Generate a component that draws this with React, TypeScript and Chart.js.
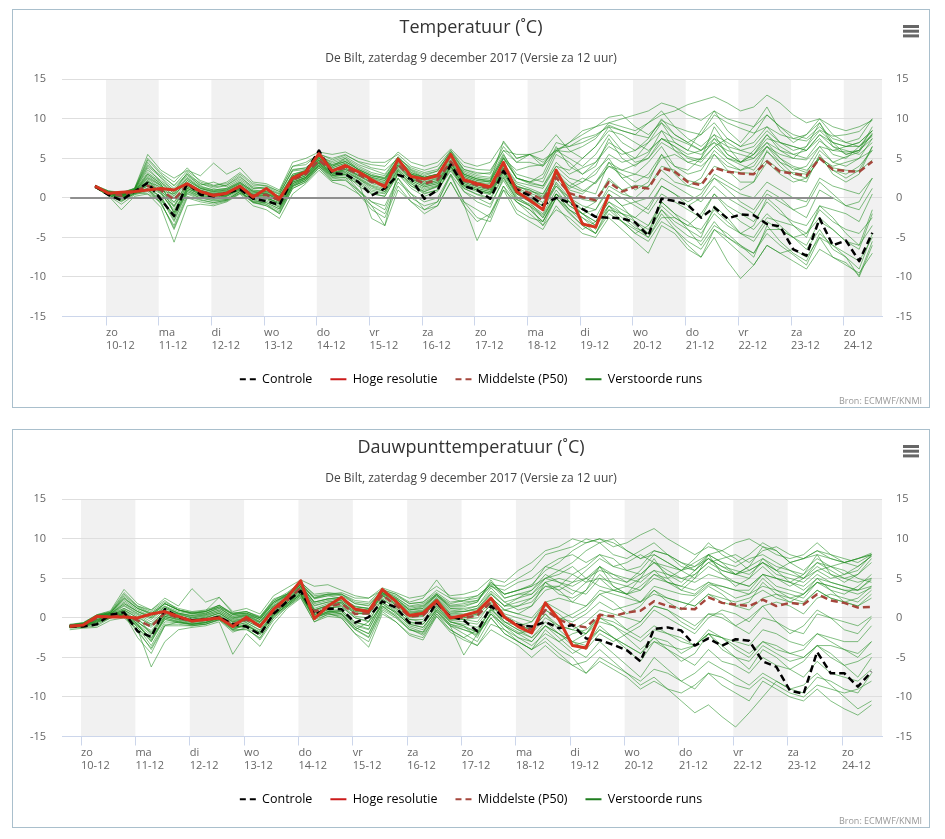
import React, { useEffect, useRef } from "react";
import { Chart, registerables } from "chart.js";

Chart.register(...registerables);

const FONT = '"Open Sans", "DejaVu Sans", sans-serif';

// x axis: days since zo 10-12 00:00
const DAY_NAMES = ["zo", "ma", "di", "wo", "do", "vr", "za", "zo", "ma", "di", "wo", "do", "vr", "za", "zo"];
const DAY_DATES = ["10-12", "11-12", "12-12", "13-12", "14-12", "15-12", "16-12", "17-12", "18-12", "19-12", "20-12", "21-12", "22-12", "23-12", "24-12"];
const BAND_DAYS = [0, 2, 4, 6, 8, 10, 12, 14];
// model time steps: first step 9-12 19h local, every 6 hours
const FIRST_HOUR = -5;
const STEP_HOURS = 6;

const SUBTITLE = "De Bilt, zaterdag 9 december 2017 (Versie za 12 uur)";
const TEMP_TITLE = "Temperatuur (˚C)";
const DEW_TITLE = "Dauwpunttemperatuur (˚C)";
const ZERO_LINE_X = [-0.68, 13.8];

// ---------------- Temperature ----------------
const TEMP_CONTROL = [1.5,0.4,-0.3,0.8, 1.9,-0.2,-2.3,1.9, 0.4,0.2,0.6,1.1, -0.1,-0.4,-0.9,2.5, 3.3,6.0,3.1,3.0, 2.0,0.3,1.2,2.9, 2.4,-0.1,1.0,4.2, 1.5,1.0,-0.1,3.4, 1.0,0.3,-0.9,0.0, -0.6,-1.4,-2.4,-2.5, -2.6,-3.1,-4.8,-0.1, -0.4,-0.9,-2.5,-1.2, -2.6,-2.1,-2.2,-3.3, -3.6,-6.5,-7.3,-2.6, -6.0,-5.4,-8.0,-4.4];
const TEMP_HIRES = [1.5,0.6,0.7,0.8, 1.0,1.2,1.0,1.8, 0.8,0.3,0.6,1.5, 0.1,1.2,-0.1,2.5, 3.3,5.6,3.4,4.1, 3.3,2.3,1.4,4.9, 2.7,2.4,2.8,5.5, 2.3,1.8,1.4,4.5, 0.8,-0.3,-1.5,3.5, 0.4,-3.3,-3.7,0.4];
const TEMP_P50 = [1.4,0.6,0.3,0.8, 1.5,1.0,-0.2,1.6, 0.8,0.4,0.6,1.4, 0.3,0.4,-0.3,2.3, 3.0,4.8,3.4,3.8, 3.0,2.0,1.6,4.2, 2.6,1.8,2.3,4.6, 2.2,1.6,1.2,3.8, 1.2,0.6,-0.3,2.6, 0.6,0.1,-0.3,2.0, 0.8,1.4,1.2,3.8, 3.3,2.0,1.6,3.8, 3.3,3.1,3.0,4.6, 3.3,3.1,2.8,5.0, 3.6,3.4,3.3,4.6];

const T01 = [1.5,0.8,0.5,1.0, 4.8,3.0,1.5,3.0, 1.5,1.0,1.2,2.2, 1.0,0.8,0.2,3.0, 3.5,5.0,4.2,4.8, 3.8,3.0,2.5,5.0, 3.2,2.6,3.0,5.4, 3.0,2.4,2.2,5.0, 3.5,4.0,4.2,6.2, 6.5,7.0,7.8,9.2, 8.5,8.0,7.6,9.8, 9.0,8.4,8.0,10.5, 9.5,8.8,8.2,9.0, 8.0,7.5,7.2,8.6, 7.8,8.0,8.4,10.0];
const T02 = [1.3,0.4,-0.5,0.6, 1.2,-0.8,-3.5,0.5, -0.2,-0.6,-0.3,0.8, -0.5,-1.0,-1.8,1.5, 2.2,4.2,2.6,3.0, 1.5,0.5,0.2,3.0, 1.2,0.2,0.8,4.0, 0.8,-0.5,-1.2,2.5, -0.2,-1.0,-2.2,0.5, -1.5,-2.5,-3.5,-1.0, -2.5,-3.8,-4.5,-1.5, -3.5,-4.8,-5.5,-3.0, -5.0,-6.2,-7.0,-4.5, -6.0,-7.2,-8.5,-5.0, -7.5,-8.2,-9.8,-5.5];
const T03 = [1.4,0.7,0.2,0.9, 2.5,1.5,-1.0,2.0, 1.0,0.5,0.8,1.6, 0.5,0.6,-0.5,2.6, 3.2,5.2,3.8,4.4, 3.2,2.2,1.8,4.5, 2.8,2.0,2.5,5.2, 2.6,2.0,1.6,4.2, 1.8,1.2,0.5,3.2, 1.5,0.8,2.0,4.5, 3.5,4.2,5.0,7.0, 6.0,5.2,4.8,6.5, 5.0,4.2,3.5,5.8, 4.5,3.8,3.2,6.0, 4.5,5.2,5.8,8.2];
const T04 = [1.6,0.9,0.7,1.2, 5.5,3.5,2.5,3.5, 2.8,4.4,3.0,3.8, 2.0,1.8,1.0,4.5, 5.0,5.8,5.5,5.8, 5.0,4.5,4.5,5.5, 4.0,3.5,4.0,6.0, 4.0,3.6,3.5,6.0, 5.5,5.5,4.5,6.0, 5.8,6.5,7.5,9.5, 10.0,10.5,11.0,12.0, 11.5,10.5,9.8,11.0, 10.0,9.5,9.0,10.5, 9.0,8.0,7.5,9.0, 7.5,7.0,6.5,8.0];
const T05 = [1.4,0.6,0.4,0.8, 1.8,0.8,-0.5,1.5, 0.8,0.3,0.5,1.3, 0.2,0.3,-0.4,2.2, 2.8,4.6,3.2,3.6, 2.8,1.8,1.4,4.0, 2.4,1.6,2.0,4.4, 2.0,1.4,1.0,3.6, 1.0,0.4,-0.6,2.4, 0.6,-0.2,-0.5,2.2, 1.0,1.6,1.4,4.0, 3.5,2.2,1.8,4.0, 3.4,3.2,3.1,4.8, 3.5,3.2,3.0,5.2, 3.8,3.5,3.4,4.8];
const T06 = [1.3,0.3,-1.5,0.2, 0.5,-1.2,-5.6,-1.0, -0.8,-1.0,-0.5,0.5, -1.0,-1.5,-2.6,0.5, 1.8,3.5,2.0,1.5, 0.5,-1.0,-3.5,1.0, -0.5,-1.5,-1.0,2.0, -0.8,-5.4,-2.0,1.5, -0.5,-1.5,-3.0,0.0, -2.0,-3.5,-4.5,-2.0, -3.0,-4.0,-5.0,-2.5, -2.5,-3.5,-4.0,-1.5, -3.0,-4.5,-5.5,-3.0, -4.0,-5.0,-6.5,-4.0, -6.5,-7.5,-10.0,-6.0];
const T07 = [1.5,0.7,0.3,1.0, 3.8,2.0,0.5,2.5, 1.2,0.8,1.0,2.0, 0.8,0.5,0.0,2.8, 3.5,5.5,4.0,5.0, 3.5,2.5,2.0,4.8, 3.0,2.5,2.8,5.5, 2.8,2.2,2.0,7.2, 5.0,5.5,4.0,5.8, 7.0,8.0,9.0,9.5, 9.0,8.5,9.5,10.5, 11.0,11.8,12.3,12.8, 12.0,11.0,11.5,13.0, 12.0,10.5,9.5,10.0, 9.0,8.5,9.0,9.8];
const T08 = [1.4,0.5,0.0,0.7, 3.0,1.8,-2.0,1.0, 0.3,0.0,0.2,1.2, 0.0,-0.2,-1.0,1.8, 2.5,4.0,2.8,3.2, 2.0,-2.6,-3.5,3.5, 1.5,0.8,1.5,4.0, 1.5,1.0,0.5,3.0, 0.5,0.0,-1.5,1.5, -0.5,-2.0,-3.0,-1.0, -2.0,-3.0,-4.0,-1.5, -3.0,-4.0,-6.0,-3.5, -4.5,-6.0,-7.0,-4.0, -4.0,-5.0,-6.0,-3.0, -4.0,-5.5,-6.5,-2.0];
const T09 = [1.5,0.8,0.6,1.1, 4.5,2.5,0.8,3.2, 1.8,1.2,1.6,2.6, 1.4,1.2,0.4,3.5, 3.8,5.2,4.6,5.2, 4.2,3.6,3.0,5.2, 3.5,2.8,3.4,5.8, 3.4,2.8,2.6,5.6, 2.5,1.8,1.5,4.5, 3.0,3.8,4.5,6.5, 5.5,6.0,7.0,8.5, 7.5,6.8,6.0,7.5, 6.5,6.0,5.5,7.0, 6.0,5.5,5.0,7.2, 6.0,5.8,6.0,7.5];
const T10 = [1.3,0.5,0.1,0.6, 1.0,0.2,-2.5,1.2, 0.5,0.2,0.3,1.0, 0.0,0.0,-0.8,1.8, 2.6,4.4,3.0,3.2, 2.4,1.2,0.8,3.6, 2.0,1.0,1.5,4.0, 1.6,1.0,0.6,3.4, 0.6,-0.2,-1.0,1.8, -0.5,-1.5,-2.5,0.5, -1.0,-0.5,0.0,2.5, 1.5,0.5,-0.5,1.5, 0.0,-1.0,-2.0,0.5, -0.5,-1.5,-2.5,1.0, 0.0,-1.0,-1.5,1.2];
const T11 = [1.5,0.6,0.5,0.9, 2.0,1.4,0.0,1.8, 1.0,0.6,0.8,1.6, 0.4,0.5,-0.2,2.4, 3.0,4.8,3.6,4.0, 3.2,2.4,1.9,4.4, 2.7,2.0,2.4,4.8, 2.4,1.8,1.4,4.0, 1.4,1.0,0.2,3.0, 1.2,2.0,3.0,5.5, 4.5,5.0,5.8,7.5, 7.0,6.0,5.5,7.0, 6.0,5.5,5.0,6.5, 5.5,5.0,4.8,6.5, 6.0,6.5,7.0,8.5];
const T12 = [1.4,0.4,-0.2,0.6, 1.5,0.0,-3.0,0.8, 0.2,-0.2,0.0,0.9, -0.4,-0.6,-1.4,1.6, 2.4,4.2,2.8,2.8, 2.0,0.8,0.5,3.2, 1.8,0.6,1.0,3.6, 1.2,0.4,-0.2,2.6, -0.2,-1.0,-2.5,0.5, -1.5,-3.0,-4.5,-1.0, -3.0,-4.5,-5.5,-3.0, -4.0,-5.5,-6.5,-4.0, -5.5,-7.0,-8.5,-6.0, -7.0,-8.0,-9.0,-6.5, -7.5,-8.5,-9.5,-7.0];
const T13 = [1.5,0.7,0.4,0.9, 2.8,1.6,0.3,2.2, 1.2,0.7,0.9,1.8, 0.6,0.7,0.0,2.6, 3.0,5.0,3.6,4.2, 3.4,2.6,2.2,4.6, 3.0,2.2,2.6,5.0, 2.6,2.0,1.8,4.4, 2.0,1.6,1.2,4.0, 2.5,2.0,3.5,5.0, 2.5,3.0,4.5,6.5, 4.0,3.5,5.0,7.5, 5.5,4.5,6.0,8.0, 6.5,5.5,6.0,7.5, 5.5,5.0,6.5,7.8];
const T14 = [1.4,0.5,0.2,0.7, 0.5,-0.5,-4.0,0.0, -0.5,-0.8,-0.4,0.6, -0.2,-0.8,-2.0,1.2, 2.0,3.8,2.2,2.2, 1.0,-0.5,-1.0,2.5, 0.5,-0.5,0.0,3.0, 0.8,0.0,-0.8,2.2, -0.5,-1.5,-3.0,0.0, -1.8,-3.5,-4.5,-1.5, -2.0,-2.5,-3.5,-0.5, -2.0,-3.0,-4.5,-2.0, -3.5,-4.5,-5.0,-2.5, -3.0,-3.5,-4.5,-1.5, -3.0,-4.0,-4.5,-2.5];
const T15 = [1.5,0.8,0.6,1.2, 5.0,3.2,2.0,3.8, 2.0,1.5,2.0,3.2, 1.8,1.5,0.8,4.0, 4.5,5.5,5.0,5.5, 4.5,3.8,3.5,5.0, 3.8,3.2,3.6,5.8, 3.6,3.2,3.0,6.0, 4.5,5.5,4.8,6.0, 7.0,8.5,9.0,10.2, 10.5,9.0,8.0,9.5, 8.0,7.0,6.0,8.0, 7.0,6.0,6.5,8.5, 7.0,6.5,6.0,8.0, 6.5,6.0,5.5,7.0];
const T16 = [1.4,0.6,0.2,0.8, 1.5,0.5,-1.5,1.2, 0.5,0.2,0.4,1.2, 0.0,0.0,-0.6,2.0, 2.6,4.5,3.2,3.4, 2.5,1.5,1.0,3.8, 2.2,1.4,1.8,4.2, 1.8,1.2,0.8,3.4, 0.8,0.0,-1.0,1.5, 0.0,-1.0,-1.5,1.5, 0.5,0.0,1.5,3.5, 2.0,1.5,1.0,2.5, 1.5,0.5,0.0,2.0, 1.0,0.0,-0.5,2.5, 1.5,1.0,0.5,2.5];
const T17 = [1.5,0.6,0.3,0.9, 2.2,1.0,-1.2,1.6, 0.8,0.4,0.6,1.4, 0.3,0.2,-0.4,2.2, 2.8,4.8,3.4,3.8, 2.8,2.0,1.5,4.2, 2.5,1.8,2.2,4.6, 2.2,1.6,1.2,3.8, 1.2,0.6,0.0,2.8, 1.5,2.5,1.8,4.0, 3.5,3.0,2.5,5.0, 5.5,4.5,4.0,5.5, 4.0,3.5,4.5,6.5, 5.0,4.0,3.5,5.0, 4.0,4.5,5.0,6.0];
const T18 = [1.3,0.4,-0.4,0.5, 1.0,-0.4,-2.0,0.8, 0.0,-0.4,-0.2,0.8, -0.6,-0.8,-1.6,1.4, 2.2,4.0,2.4,2.6, 1.8,0.6,0.2,3.0, 1.5,0.5,1.0,3.4, 1.2,0.5,0.0,2.8, 0.0,-0.8,-2.0,1.0, -1.0,-2.0,-3.0,-0.5, -2.0,-3.5,-5.0,-2.0, -4.0,-6.0,-7.5,-5.0, -8.0,-10.2,-8.5,-6.0, -7.0,-6.5,-7.5,-5.0, -6.0,-7.0,-8.0,-5.0];
const T19 = [1.6,0.9,0.5,1.1, 3.5,2.2,1.0,2.8, 1.6,2.0,1.4,2.4, 1.2,1.4,0.6,3.4, 3.6,5.4,4.2,4.6, 3.6,2.8,2.6,4.8, 3.4,2.6,3.0,5.6, 3.2,2.6,2.4,5.2, 2.5,2.0,1.5,4.0, 3.5,5.0,6.5,8.5, 8.0,7.0,6.0,7.5, 6.5,5.5,6.0,7.0, 5.0,4.5,5.5,7.5, 7.0,6.5,6.0,8.0, 7.0,6.5,6.5,8.5];
const T20 = [1.4,0.6,0.3,0.8, 2.0,0.8,-1.8,1.4, 0.6,0.3,0.4,1.2, 0.2,0.0,-0.6,2.0, 2.6,4.6,3.0,3.6, 2.6,1.6,1.2,4.0, 2.2,1.4,1.8,4.4, 1.8,1.2,0.8,3.6, 0.5,-0.5,-2.5,0.5, -1.0,-2.0,-1.5,1.0, 0.0,-1.0,-2.0,0.5, -0.5,-1.5,-2.5,0.5, -1.0,-2.0,-3.0,-0.5, -2.0,-3.0,-3.5,-1.0, -1.5,-2.0,-3.0,0.5];
const T21 = [1.5,0.7,0.4,1.0, 3.2,2.0,0.8,2.6, 1.4,1.0,1.2,2.0, 0.8,0.9,0.2,2.8, 3.4,5.0,4.0,4.6, 3.6,2.8,2.4,4.8, 3.0,2.6,3.0,5.6, 3.0,2.4,2.2,5.4, 3.0,2.5,2.0,5.5, 4.5,3.0,4.0,7.5, 5.0,4.0,5.5,8.5, 6.0,4.5,5.0,9.0, 6.5,4.5,5.5,8.0, 6.0,5.0,6.5,9.5, 7.0,5.5,6.0,9.0];
const T22 = [1.4,0.5,0.1,0.7, 2.2,0.6,-1.8,1.2, 0.4,0.0,0.3,1.1, -0.2,0.0,-1.2,1.6, 2.4,4.4,2.8,3.0, 1.0,-1.0,-2.0,2.0, 0.5,-1.5,-0.5,3.0, -0.5,-2.5,-3.0,1.0, -0.5,-2.0,-3.5,0.0, -1.5,-2.5,-4.0,0.5, -1.0,-3.0,-4.5,-0.5, -2.0,-4.0,-5.0,-1.0, -2.5,-4.5,-3.5,0.0, -1.5,-3.5,-5.0,-1.0, -2.5,-4.5,-6.0,-1.5];
const T23 = [1.4,0.6,0.3,0.8, 1.6,0.9,0.5,1.8, 0.9,0.5,0.7,1.5, 0.4,0.5,-0.2,2.4, 3.0,4.6,3.2,3.6, 3.0,2.2,1.6,4.2, 2.6,1.8,2.2,4.6, 2.2,1.6,1.2,4.0, 1.5,0.8,0.5,3.5, 2.0,1.0,0.5,4.5, 2.5,1.0,2.0,5.5, 3.0,1.5,2.5,5.5, 3.5,2.0,2.0,6.0, 4.0,2.5,2.0,5.5, 3.0,2.0,3.0,6.5];
const T24 = [1.5,0.8,0.5,1.1, 4.0,2.6,1.2,3.0, 1.8,1.4,1.6,2.8, 1.2,1.2,0.5,3.6, 3.8,5.4,4.4,5.0, 4.0,3.2,2.8,5.2, 3.6,3.0,3.4,6.0, 3.6,3.0,3.2,6.5, 4.5,4.5,4.0,7.0, 6.5,7.5,8.0,9.0, 8.5,8.0,9.5,11.0, 9.0,7.5,6.5,8.0, 5.5,4.5,5.0,7.0, 5.0,3.5,4.0,6.5, 4.5,4.0,5.0,7.5];
const T25 = [1.3,0.3,-0.8,0.4, 0.8,-0.6,-3.8,0.2, -0.3,-0.6,-0.3,0.6, -0.6,-1.0,-2.0,1.2, 2.0,3.8,2.2,2.4, 0.5,-1.5,-2.5,1.5, -0.5,-2.0,-1.0,2.0, -1.0,-3.0,-2.0,1.0, -2.0,-3.0,-4.0,-1.0, -3.0,-4.5,-5.0,-2.5, -4.0,-5.5,-7.0,-3.5, -4.5,-6.5,-7.5,-4.0, -5.0,-6.0,-7.5,-3.5, -5.5,-7.0,-8.0,-4.5, -6.0,-7.5,-9.0,-4.5];
const T26 = [1.5,0.7,0.4,1.0, 2.6,1.6,0.2,2.2, 1.2,0.8,1.0,1.8, 0.7,0.6,0.0,2.8, 3.2,5.0,3.8,4.4, 3.4,2.6,2.2,4.8, 3.0,2.4,2.8,5.4, 2.8,2.2,2.0,5.0, 2.5,2.0,2.5,6.0, 5.0,4.0,5.5,8.0, 6.0,5.0,7.0,9.5, 7.0,6.0,8.5,11.0, 8.5,7.0,9.0,11.5, 8.5,7.0,8.0,10.0, 8.0,7.0,7.5,10.0];
const T27 = [1.4,0.6,0.3,0.9, 2.4,1.2,-0.6,1.8, 0.8,0.4,0.6,1.4, 0.3,0.3,-0.4,2.2, 2.8,4.8,3.4,3.8, 2.8,2.0,1.6,4.2, 2.4,1.6,2.0,4.4, 2.0,1.4,1.0,3.8, 1.5,1.0,0.0,3.0, 1.0,0.5,2.0,4.0, 3.0,2.0,3.0,5.5, 4.0,3.0,3.5,6.0, 4.5,3.5,4.0,6.5, 4.5,3.0,2.5,5.0, 3.5,3.0,4.0,6.0];
const T28 = [1.4,0.5,0.0,0.7, 1.2,0.2,-2.8,1.0, 0.2,-0.1,0.2,1.0, -0.2,-0.4,-1.2,1.8, 2.4,4.2,3.0,3.0, 2.2,1.0,0.6,3.4, 1.8,0.8,1.4,3.8, 1.4,0.8,0.4,3.2, 0.2,-1.0,-3.5,-1.5, -2.5,-4.0,-3.0,-0.5, -1.5,-2.5,-1.0,1.5, 0.5,-0.5,0.5,3.0, 2.0,1.0,2.0,4.5, 3.0,2.0,2.5,5.0, 3.5,2.5,3.5,6.5];
const T29 = [1.5,0.8,0.6,1.2, 4.2,2.8,1.6,3.4, 2.2,1.6,1.8,3.0, 1.6,1.6,0.8,4.0, 4.2,5.6,4.8,5.4, 4.6,4.2,4.0,5.8, 4.5,4.0,4.5,6.2, 4.5,4.0,4.5,7.0, 5.0,5.5,6.0,8.0, 6.0,5.0,6.5,9.0, 7.0,6.0,7.5,10.0, 8.0,7.0,8.0,9.5, 7.5,6.5,7.0,9.0, 7.0,6.0,6.5,8.5, 7.0,6.5,7.0,8.5];
const T30 = [1.3,0.4,-0.3,0.5, 1.0,-0.2,-2.2,0.6, 0.0,-0.3,-0.2,0.8, -0.5,-0.6,-1.4,1.5, 2.2,4.0,2.6,2.6, 0.8,-0.5,-1.5,2.5, 0.0,-1.0,-0.5,2.8, -0.5,-1.5,-2.5,1.5, -1.5,-2.5,-3.0,0.5, -0.5,-2.0,-3.5,-1.5, -3.0,-4.5,-3.5,-1.0, -2.5,-3.5,-2.0,0.5, -1.5,-3.0,-4.0,-2.0, -3.5,-5.0,-4.5,-2.5, -4.0,-5.5,-6.0,-3.5];
const T31 = [1.5,0.7,0.5,1.0, 3.0,1.8,0.6,2.4, 1.3,0.9,1.1,1.9, 0.9,0.8,0.2,3.0, 3.4,5.2,4.0,4.6, 3.6,2.8,2.4,4.8, 3.2,2.6,3.0,5.4, 3.0,2.4,2.0,5.0, 2.5,2.0,3.0,6.5, 4.0,3.0,4.5,7.0, 6.0,4.5,5.0,7.5, 6.5,5.0,4.5,6.5, 7.5,6.5,8.0,10.5, 9.0,7.5,8.0,9.5, 6.5,5.5,6.0,8.0];
const T32 = [1.4,0.5,0.2,0.8, 1.8,0.6,-1.0,1.4, 0.6,0.2,0.4,1.2, 0.1,0.1,-0.8,2.0, 2.6,4.4,3.0,3.4, 2.4,1.4,0.8,3.6, 2.0,1.2,1.6,4.0, 1.6,1.0,0.6,3.4, 0.5,-0.5,-1.5,2.0, 0.0,-1.5,-0.5,2.5, 1.0,-0.5,-1.5,1.5, 0.5,-1.0,0.0,2.5, 1.0,-0.5,-1.5,1.0, 0.0,-1.5,-1.0,2.0, 0.5,-1.0,-0.5,2.5];
const TEMP_RUNS = [T01, T02, T03, T04, T05, T06, T07, T08, T09, T10, T11, T12, T13, T14, T15, T16, T17, T18, T19, T20, T21, T22, T23, T24, T25, T26, T27, T28, T29, T30, T31, T32];

// ---------------- Dew point ----------------
const DEW_CONTROL = [-1.1,-1.1,-0.8,0.4, 0.7,-1.7,-2.4,1.1, 0.1,-0.3,-0.2,0.1, -0.8,-1.1,-2.1,0.5, 2.1,3.4,0.4,1.2, 1.1,-0.6,0.1,2.1, 1.3,-0.6,-0.7,1.9, 0.2,-0.3,-1.7,1.5, 0.0,-0.9,-1.1,-0.5, -1.3,-0.9,-2.6,-2.8, -3.4,-4.1,-5.5,-1.4, -1.2,-1.6,-3.5,-2.6, -3.5,-2.7,-2.9,-5.5, -6.2,-9.2,-9.6,-4.3, -7.0,-7.0,-8.7,-6.8];
const DEW_HIRES = [-1.1,-0.9,0.2,0.1, 0.1,0.0,0.5,0.8, 0.2,-0.4,-0.2,0.0, -1.1,0.1,-1.1,1.1, 2.6,4.7,-0.1,1.5, 2.6,1.1,0.8,3.6, 2.1,0.3,0.6,2.2, 0.0,0.3,0.8,2.5, 0.1,-1.1,-1.9,1.9, -0.2,-3.5,-3.8,0.3];
const DEW_P50 = [-1.0,-0.9,0.0,0.2, 0.3,-0.3,-1.1,0.6, 0.0,-0.4,-0.2,0.1, -0.8,-0.2,-1.0,0.8, 2.2,3.8,0.8,1.4, 1.8,0.5,0.6,2.9, 1.6,0.2,0.3,1.9, 0.1,0.0,0.3,2.0, 0.0,-0.9,-1.5,1.0, -0.2,-0.9,-1.2,0.4, 0.2,0.7,0.9,2.1, 1.5,1.2,1.1,2.6, 1.9,1.7,1.5,2.3, 1.5,1.9,1.7,3.0, 2.2,1.9,1.3,1.4];

const D01 = [-1.0,-0.8,0.2,0.6, 2.5,1.2,0.5,1.5, 0.8,0.5,0.6,1.2, 0.2,0.5,-0.2,1.8, 3.0,4.2,2.5,2.8, 2.5,1.5,1.2,3.2, 2.4,1.2,1.5,2.8, 1.5,1.6,2.0,4.8, 2.5,3.0,3.5,5.0, 6.0,7.0,8.5,9.5, 10.0,8.5,7.5,8.5, 8.0,7.0,6.5,7.5, 6.5,6.0,5.5,7.0, 6.0,5.5,5.0,6.5, 5.5,5.0,4.5,5.0];
const D02 = [-1.3,-1.2,-1.0,0.0, 0.5,-2.5,-4.5,-1.0, -0.5,-0.8,-0.6,-0.2, -1.5,-1.5,-2.5,0.0, 1.8,3.0,0.0,0.8, 0.5,-1.5,-0.5,1.5, 0.8,-1.0,-1.5,1.2, -0.5,-1.0,-2.5,0.8, -1.0,-2.0,-3.0,-1.0, -2.5,-4.0,-5.0,-3.0, -4.5,-6.0,-7.5,-5.0, -6.5,-8.0,-9.0,-7.0, -8.5,-9.5,-10.5,-8.0, -9.0,-10.0,-10.5,-9.0, -10.5,-11.5,-12.3,-11.0];
const D03 = [-1.1,-0.9,0.0,0.3, 1.0,0.0,-2.0,0.5, 0.2,-0.2,0.0,0.6, -0.5,-0.2,-1.0,1.0, 2.2,3.6,1.0,1.6, 2.0,0.6,0.5,2.8, 1.8,0.4,0.5,2.0, 0.3,0.0,0.5,2.2, 0.3,-0.6,-1.2,1.0, -0.2,0.5,1.5,3.5, 3.0,2.5,2.0,4.0, 3.5,3.0,2.8,4.2, 4.0,3.5,3.0,4.0, 3.5,3.0,2.5,4.5, 4.0,3.5,3.0,3.8];
const D04 = [-0.8,-0.6,0.4,0.9, 3.6,1.8,1.0,2.5, 1.5,3.7,2.0,2.6, 0.8,1.2,0.5,2.8, 3.8,4.8,4.0,4.2, 3.5,2.8,2.5,3.5, 3.0,2.0,2.5,4.8, 2.5,2.0,2.2,4.5, 3.0,3.5,4.2,6.0, 7.0,8.5,9.5,10.0, 9.0,9.5,10.5,11.3, 10.0,9.0,8.0,9.0, 8.5,9.5,10.0,9.0, 8.0,7.5,8.0,9.5, 8.0,7.5,7.0,8.0];
const D05 = [-1.0,-0.9,0.1,0.2, 0.5,-0.3,-1.2,0.6, 0.0,-0.4,-0.2,0.2, -0.8,-0.2,-1.0,0.9, 2.2,3.8,0.8,1.4, 1.8,0.5,0.6,2.9, 1.6,0.2,0.3,1.9, 0.1,0.0,0.3,2.0, 0.0,-0.9,-1.5,1.0, 0.0,-0.5,0.5,2.0, 1.0,1.5,2.0,3.0, 2.5,2.0,1.5,3.0, 2.5,2.0,2.5,3.5, 2.5,2.0,1.8,3.5, 2.5,2.0,1.5,2.5];
const D06 = [-1.5,-1.3,-1.2,-0.3, 0.0,-1.5,-6.2,-3.0, -1.5,-1.2,-1.0,-0.5, -4.6,-2.0,-3.6,-0.8, 1.2,2.5,-0.5,0.2, 0.0,-2.0,-3.7,0.5, -0.5,-2.0,-2.5,0.5, -1.0,-4.7,-2.0,0.0, -2.0,-3.0,-4.0,-2.5, -4.0,-5.0,-7.0,-5.0, -6.0,-7.0,-8.5,-7.5, -9.0,-10.5,-12.0,-11.0, -12.5,-13.8,-12.0,-10.0, -8.0,-9.0,-9.5,-7.5, -8.0,-9.0,-9.5,-7.0];
const D07 = [-0.9,-0.7,0.3,0.7, 3.0,1.5,0.8,2.0, 1.2,0.8,1.0,1.6, 0.6,0.8,0.2,2.2, 3.2,4.5,3.0,3.2, 3.0,2.0,1.8,3.4, 2.8,1.8,2.0,3.2, 2.0,2.2,2.5,4.0, 3.5,4.5,5.0,6.5, 7.5,8.0,7.0,8.0, 6.5,6.0,5.5,7.0, 6.0,5.0,5.5,7.0, 7.5,8.0,7.0,8.5, 9.0,8.0,7.5,8.5, 7.5,7.0,6.5,7.8];
const D08 = [-1.2,-1.0,-0.5,0.2, 0.8,-0.8,-3.0,0.2, -0.3,-0.6,-0.4,0.2, -1.2,-1.0,-1.8,0.5, 1.8,3.2,0.4,1.0, 1.0,-0.5,-1.0,2.0, 1.0,-0.5,-0.8,1.5, -0.5,-1.0,-1.8,1.2, -0.8,-1.8,-2.5,-0.5, -2.0,-3.0,-3.5,-1.5, -2.5,-3.5,-4.5,-2.5, -4.0,-5.0,-6.0,-4.0, -5.5,-6.0,-7.0,-5.0, -6.0,-6.5,-7.5,-5.5, -7.0,-7.5,-8.0,-6.5];
const D09 = [-1.0,-0.8,0.2,0.5, 1.8,0.8,0.0,1.2, 0.6,0.2,0.4,1.0, 0.0,0.3,-0.5,1.5, 2.6,4.2,1.8,2.2, 2.4,1.2,1.0,3.2, 2.2,0.8,1.0,2.6, 1.0,0.8,1.2,3.0, 1.5,1.5,2.0,4.0, 3.5,4.5,5.0,6.0, 5.5,5.0,4.5,6.0, 5.5,5.0,4.5,5.5, 5.0,4.5,4.0,5.5, 5.0,4.5,4.0,5.5, 4.5,4.0,3.5,4.8];
const D10 = [-1.1,-1.0,-0.3,0.2, 0.3,-1.0,-2.5,0.0, -0.4,-0.7,-0.5,0.0, -1.5,-0.8,-2.0,0.4, 1.6,3.0,0.2,0.8, 0.8,-1.0,-1.5,1.8, 0.6,-0.8,-1.2,1.0, -0.8,-1.5,-2.0,0.5, -1.5,-2.5,-3.5,-2.0, -3.0,-2.0,-1.5,0.0, -0.5,-1.5,-2.5,-1.0, -2.0,-3.0,-3.5,-2.0, -2.5,-3.5,-4.5,-3.0, -4.0,-4.5,-5.0,-3.5, -3.5,-4.0,-4.5,-3.0];
const D11 = [-1.0,-0.9,0.0,0.4, 1.5,0.5,-0.5,1.0, 0.4,0.0,0.2,0.8, -0.3,0.0,-0.6,1.2, 2.4,4.0,1.2,1.8, 2.0,0.8,0.8,3.0, 2.0,0.5,0.8,2.4, 0.6,0.5,0.8,2.6, 1.0,0.5,1.5,3.5, 4.0,5.5,4.5,5.0, 3.5,4.0,5.0,6.0, 4.5,4.0,5.5,7.0, 6.0,5.5,6.5,7.5, 6.5,6.0,5.0,6.0, 5.0,5.5,6.5,7.8];
const D12 = [-1.2,-1.1,-0.6,0.1, 0.6,-1.2,-3.5,-0.5, -0.6,-0.9,-0.8,-0.2, -1.0,-1.2,-2.2,0.2, 1.5,2.8,0.0,0.6, 0.6,-1.2,-2.0,1.4, 0.4,-1.2,-1.8,0.8, -1.0,-2.0,-3.0,0.0, -2.0,-3.0,-4.0,-3.0, -4.5,-6.0,-7.0,-5.5, -6.5,-7.5,-9.0,-8.0, -9.0,-9.5,-8.5,-7.0, -7.5,-8.5,-9.0,-7.5, -8.5,-9.5,-10.0,-8.5, -9.0,-9.5,-9.0,-8.0];
const D13 = [-0.9,-0.6,0.4,0.8, 3.2,1.5,1.0,2.2, 1.0,0.6,0.8,1.4, 0.4,0.6,0.0,2.0, 3.0,4.4,2.5,3.0, 2.8,1.8,1.5,3.4, 2.6,1.5,1.8,3.0, 1.8,2.2,2.8,4.2, 4.0,5.0,6.0,8.0, 8.5,9.0,10.0,9.5, 8.0,7.5,8.5,9.5, 8.0,7.0,6.0,7.5, 6.0,5.5,6.0,7.0, 5.5,5.0,4.5,6.0, 6.5,7.0,7.5,8.0];
const D14 = [-1.1,-0.9,-0.2,0.3, 0.8,-0.5,-2.0,0.2, -0.2,-0.5,-0.3,0.2, -1.0,-0.6,-1.5,0.6, 2.0,3.4,0.4,1.2, 1.5,0.0,-0.5,2.4, 1.2,-0.2,-0.5,1.4, -0.3,-0.5,-0.8,1.2, -0.5,-1.5,-2.0,0.0, -1.0,-1.5,-0.5,1.0, 0.5,0.0,-0.5,1.5, 1.0,0.0,-1.0,0.5, 0.0,-1.0,-2.0,0.0, -0.5,-1.5,-2.0,0.5, 0.0,-0.5,-1.0,0.2];
const D15 = [-1.0,-0.7,0.3,0.6, 2.2,1.0,0.2,1.8, 1.0,0.5,0.8,1.4, 0.5,0.6,-0.2,2.0, 2.8,4.0,2.0,2.4, 2.6,1.4,1.2,3.0, 2.5,1.0,1.2,2.8, 1.2,1.2,1.5,3.4, 2.0,2.5,3.0,4.5, 5.0,4.5,6.0,7.5, 6.5,7.0,8.0,7.0, 6.5,6.0,7.0,8.0, 7.0,6.5,7.5,8.0, 7.0,6.0,5.5,7.0, 6.5,6.0,5.0,4.5];
const D16 = [-1.2,-1.0,-0.4,0.1, 0.2,-1.5,-4.0,-1.0, -1.0,-1.0,-0.8,-0.3, -1.8,-1.2,-2.8,-0.3, 1.4,2.6,-0.5,0.5, 0.2,-1.5,-2.5,1.0, 0.0,-1.5,-2.0,0.5, -1.5,-2.5,-1.5,1.0, 1.0,0.5,0.0,2.0, 2.5,2.0,1.5,3.0, 3.5,3.0,2.0,3.5, 2.5,2.0,1.5,3.0, 2.0,1.5,1.0,2.5, 3.0,2.5,2.0,3.5, 2.5,2.0,1.5,3.0];
const D17 = [-1.0,-0.8,0.1,0.5, 1.2,0.4,-0.8,0.8, 0.5,0.0,0.3,0.8, -0.2,0.2,-0.6,1.4, 2.4,4.0,1.5,2.0, 2.2,1.0,0.8,3.2, 2.0,0.6,0.8,2.4, 0.6,0.8,1.0,3.0, 1.5,2.5,3.5,5.5, 4.5,3.5,3.0,5.0, 4.5,4.0,3.5,5.0, 4.5,4.0,3.5,4.5, 4.0,3.5,3.5,5.5, 4.0,3.5,3.0,4.5, 4.0,3.5,3.5,4.0];
const D18 = [-1.1,-1.0,-0.2,0.3, 1.0,-0.5,-1.8,0.4, 0.0,-0.3,-0.2,0.4, -0.6,-0.4,-1.2,1.0, 2.0,3.6,0.6,1.2, 1.6,0.2,0.0,2.6, 1.4,0.0,0.2,2.0, 0.0,-0.2,-0.5,1.8, -0.5,-1.5,-2.5,-1.0, -2.0,-3.0,-4.0,-2.0, -3.0,-2.0,-1.0,1.0, 0.0,-1.0,-2.0,0.0, 1.0,0.5,-0.5,1.5, 2.0,1.5,0.5,2.5, 3.0,2.5,2.0,3.5];
const D19 = [-0.9,-0.7,0.2,0.6, 2.8,1.4,0.6,1.8, 1.0,0.7,0.9,2.6, 0.6,0.8,0.1,2.4, 3.0,4.6,2.8,3.0, 3.0,1.8,1.6,3.4, 2.6,1.4,1.6,3.0, 1.6,1.8,2.2,4.0, 3.0,3.5,4.0,5.0, 5.5,6.5,5.0,4.0, 3.5,3.0,4.0,5.5, 5.0,6.0,6.5,8.0, 8.5,7.5,6.0,7.0, 6.0,7.0,7.5,8.0, 7.5,7.0,7.5,8.2];
const D20 = [-1.1,-1.0,-0.4,0.2, 0.4,-0.8,-2.8,0.0, -0.5,-0.8,-0.6,0.0, -1.2,-0.8,-1.8,0.5, 1.8,3.2,0.2,0.8, 1.0,-0.6,-1.0,2.0, 0.8,-0.6,-0.8,1.2, -0.5,-0.8,-1.2,1.0, -0.5,-1.0,-1.5,0.5, -1.0,-1.5,-2.0,-0.5, -1.0,-2.0,-3.0,-1.5, -2.0,-2.5,-3.5,-2.0, -2.5,-3.0,-3.5,-1.5, -2.0,-3.0,-3.5,-2.0, -2.5,-3.0,-3.0,-1.0];
const D21 = [-1.0,-0.8,0.2,0.5, 2.0,0.8,0.0,1.4, 0.6,0.3,0.5,1.4, 0.0,0.4,-0.4,1.6, 2.8,4.2,2.0,2.4, 2.6,1.2,1.0,3.4, 2.2,1.0,1.2,3.0, 1.2,1.0,1.5,3.8, 2.0,1.0,1.5,4.5, 3.5,2.0,3.5,6.5, 4.0,3.0,5.0,7.5, 5.0,3.5,5.0,8.0, 5.5,4.0,5.0,7.5, 6.0,4.5,5.5,8.0, 5.5,4.5,5.5,7.5];
const D22 = [-1.2,-1.1,-0.6,0.0, 0.4,-1.2,-3.0,-0.2, -0.5,-0.8,-0.6,0.0, -1.4,-1.0,-2.0,0.3, 1.6,3.0,0.0,0.6, 0.0,-2.0,-3.0,0.8, -0.5,-2.2,-2.8,0.2, -1.8,-2.8,-3.5,-0.8, -1.5,-3.0,-4.0,-1.5, -3.0,-4.5,-3.5,-1.0, -2.5,-4.0,-5.5,-3.0, -4.0,-5.5,-4.5,-2.0, -3.5,-5.0,-6.5,-4.0, -5.0,-6.5,-5.5,-3.5, -4.5,-6.0,-7.5,-5.0];
const D23 = [-1.0,-0.9,0.0,0.3, 1.2,0.2,-1.0,0.8, 0.2,-0.2,0.0,0.6, -0.5,-0.1,-0.8,1.0, 2.2,3.8,1.0,1.5, 1.8,0.6,0.4,2.8, 1.6,0.2,0.4,2.0, 0.2,0.2,0.5,2.4, 0.5,0.0,-0.5,2.0, 1.0,0.0,1.0,3.0, 2.0,0.5,1.5,3.5, 2.0,1.0,2.5,4.0, 3.0,1.5,2.0,4.5, 3.0,2.0,3.0,5.0, 3.5,2.0,2.5,4.0];
const D24 = [-0.9,-0.7,0.3,0.7, 2.6,1.2,0.4,1.8, 1.0,0.6,0.8,1.6, 0.5,0.8,0.0,2.2, 3.0,4.4,2.6,3.0, 3.2,2.5,2.5,3.8, 3.2,2.5,2.8,4.0, 2.8,3.0,3.5,5.0, 4.5,6.0,7.0,8.5, 9.0,10.0,9.5,10.0, 9.5,8.5,7.5,8.0, 7.0,6.0,5.0,6.5, 5.5,4.5,4.0,5.5, 5.0,4.5,3.5,5.0, 4.5,4.0,3.5,5.0];
const D25 = [-1.1,-1.0,-0.3,0.2, 0.6,-0.8,-2.2,0.2, -0.2,-0.5,-0.3,0.3, -1.0,-0.6,-1.6,0.6, 1.8,3.4,0.4,1.0, 0.5,-1.2,-2.0,1.5, 0.2,-1.5,-1.8,0.8, -1.0,-1.5,-2.2,0.5, -1.0,-2.0,-1.5,0.5, -1.5,-3.0,-2.0,0.0, -1.0,-2.5,-4.0,-2.5, -3.0,-4.5,-3.5,-1.5, -2.5,-4.0,-5.0,-3.0, -3.5,-4.5,-4.0,-2.0, -3.0,-4.0,-5.0,-3.0];
const D26 = [-1.0,-0.8,0.2,0.5, 1.8,0.8,0.2,1.4, 0.6,0.3,0.6,1.2, 0.2,0.4,-0.2,1.8, 2.8,4.2,2.0,2.4, 2.4,1.4,1.2,3.2, 2.4,1.0,1.4,3.0, 1.4,1.4,2.0,4.5, 3.0,3.5,4.0,6.5, 6.0,5.5,6.5,8.0, 7.5,6.0,6.5,8.5, 8.0,6.5,6.0,8.0, 7.0,5.5,6.5,9.0, 8.5,7.0,6.0,7.5, 6.5,5.5,6.0,8.0];
const D27 = [-1.0,-0.9,0.1,0.3, 1.0,0.0,-0.8,0.8, 0.2,-0.2,0.1,0.6, -0.4,0.0,-0.8,1.2, 2.3,3.9,1.0,1.6, 2.0,0.8,0.6,2.9, 1.8,0.4,0.6,2.2, 0.4,0.4,0.6,2.6, 1.0,1.5,2.5,4.5, 3.0,2.5,3.5,5.5, 4.0,3.0,3.5,5.5, 4.5,3.5,3.0,4.5, 3.5,2.5,3.0,5.0, 3.5,2.5,3.0,4.5, 3.5,3.0,4.0,5.5];
const D28 = [-1.2,-1.1,-0.8,0.0, 0.4,-1.8,-3.8,-0.8, -0.8,-1.0,-0.8,-0.2, -1.6,-1.4,-2.6,0.0, 1.4,2.8,-0.2,0.4, 0.4,-1.4,-2.4,1.2, 0.2,-1.4,-2.2,0.2, -1.5,-2.5,-3.5,-1.5, -2.5,-3.5,-5.0,-3.5, -5.0,-6.0,-5.5,-4.0, -5.5,-7.0,-8.0,-6.5, -7.0,-8.0,-7.0,-5.5, -6.5,-7.5,-8.5,-7.0, -8.0,-9.0,-8.5,-7.0, -8.5,-10.0,-11.5,-10.5];
const D29 = [-1.0,-0.8,0.1,0.5, 1.6,0.6,-0.2,1.2, 0.5,0.1,0.4,1.0, -0.1,0.3,-0.5,1.5, 2.6,4.0,1.6,2.0, 2.2,1.0,0.9,3.1, 2.1,0.7,0.9,2.5, 0.8,0.8,1.2,3.2, 1.5,2.0,2.5,4.0, 4.0,3.0,4.5,6.5, 5.5,4.5,5.5,7.0, 5.5,4.5,6.0,7.5, 6.5,5.5,5.0,6.5, 5.0,4.0,5.0,7.0, 6.0,5.0,5.5,7.0];
const D30 = [-1.1,-1.0,-0.2,0.3, 0.7,-0.6,-1.6,0.4, -0.1,-0.4,-0.2,0.3, -0.8,-0.4,-1.2,0.8, 2.0,3.6,0.6,1.2, 1.4,0.0,-0.4,2.4, 1.2,-0.2,-0.2,1.6, -0.2,-0.2,0.0,1.6, 0.0,-1.0,-0.5,1.5, 0.5,-1.0,-2.0,0.5, 0.0,-1.5,-0.5,1.5, 1.0,-0.5,-1.5,0.5, 0.5,-1.0,0.0,1.5, -0.5,-2.0,-1.0,1.0, 0.0,-1.5,-2.0,0.0];
const D31 = [-0.9,-0.7,0.3,0.7, 2.4,1.2,0.6,1.8, 1.0,0.6,0.8,1.6, 0.4,0.6,0.0,2.0, 2.9,4.3,2.4,2.8, 3.0,2.2,2.0,3.6, 3.0,1.8,2.0,3.5, 2.5,2.5,2.8,4.2, 2.5,3.0,3.0,5.0, 4.5,4.0,5.0,6.5, 5.0,4.5,6.0,8.0, 7.0,6.0,7.5,9.5, 8.0,7.0,8.0,9.5, 8.5,7.0,7.5,8.5, 8.0,7.0,7.5,8.0];
const D32 = [-1.2,-1.0,-0.5,0.1, 0.5,-1.0,-2.6,-0.2, -0.6,-0.8,-0.6,0.0, -1.3,-0.9,-2.0,0.3, 1.6,3.0,0.0,0.7, 0.8,-0.8,-1.4,1.8, 0.6,-0.8,-1.2,1.0, -0.8,-1.2,-1.8,0.5, -1.0,-2.5,-3.0,-1.0, -2.0,-3.5,-3.0,-1.5, -2.5,-3.5,-4.5,-3.0, -3.5,-4.0,-3.5,-2.0, -4.0,-5.0,-5.5,-3.5, -4.5,-5.5,-5.0,-3.5, -5.0,-6.0,-5.5,-4.5];
const DEW_RUNS = [D01, D02, D03, D04, D05, D06, D07, D08, D09, D10, D11, D12, D13, D14, D15, D16, D17, D18, D19, D20, D21, D22, D23, D24, D25, D26, D27, D28, D29, D30, D31, D32];

// ---------------- styling ----------------
const COLORS = {
  control: "#000000",
  hires: "#d6331f",
  p50: "#a5463c",
  runs: "rgba(30,140,30,0.55)",
  runsLegend: "#1e7d1e",
  zero: "#8f8f8f",
  band: "#f1f1f1",
  grid: "#dedede",
  axis: "#ccd6eb",
};

const LEGEND_ITEMS = [
  { text: "Controle", strokeStyle: COLORS.control, fillStyle: COLORS.control, lineWidth: 2, lineDash: [6, 4], pointStyle: "line", hidden: false, datasetIndex: 0 },
  { text: "Hoge resolutie", strokeStyle: "#cc1a1a", fillStyle: "#cc1a1a", lineWidth: 2, lineDash: [], pointStyle: "line", hidden: false, datasetIndex: 1 },
  { text: "Middelste (P50)", strokeStyle: COLORS.p50, fillStyle: COLORS.p50, lineWidth: 2, lineDash: [6, 4], pointStyle: "line", hidden: false, datasetIndex: 2 },
  { text: "Verstoorde runs", strokeStyle: COLORS.runsLegend, fillStyle: COLORS.runsLegend, lineWidth: 2, lineDash: [], pointStyle: "line", hidden: false, datasetIndex: 3 },
];

const stepToDay = (i: number) => (FIRST_HOUR + STEP_HOURS * i) / 24;
const toPoints = (vals: number[]) => vals.map((y, i) => ({ x: stepToDay(i), y }));

const extrasPlugin = {
  id: "extras",
  beforeDraw(chart: any) {
    const { ctx, chartArea: a, scales } = chart;
    const x = scales.x;
    ctx.save();
    ctx.fillStyle = COLORS.band;
    for (const d of BAND_DAYS) {
      const x0 = Math.max(a.left, x.getPixelForValue(d));
      const x1 = Math.min(a.right, x.getPixelForValue(d + 1));
      if (x1 > x0) ctx.fillRect(x0, a.top, x1 - x0, a.bottom - a.top);
    }
    ctx.restore();
  },
  afterDraw(chart: any) {
    const { ctx, width, height } = chart;
    ctx.save();
    ctx.fillStyle = "#666";
    for (let i = 0; i < 3; i++) ctx.fillRect(width - 26, 15 + i * 4.7, 16, 3);
    ctx.font = `9px ${FONT}`;
    ctx.fillStyle = "#999";
    ctx.textAlign = "right";
    ctx.textBaseline = "middle";
    ctx.fillText("Bron: ECMWF/KNMI", width - 7, height - 6);
    ctx.restore();
  },
};

function makeConfig(
  title: string,
  control: number[],
  hires: number[],
  p50: number[],
  runs: number[][],
  xMin: number,
  xMax: number,
  withZero: boolean
): any {
  const datasets: any[] = [
    { label: "Hoge resolutie", data: toPoints(hires), borderColor: COLORS.hires, borderWidth: 3, order: 0 },
    { label: "Controle", data: toPoints(control), borderColor: COLORS.control, borderWidth: 2.5, borderDash: [7, 4], order: 1 },
    { label: "Middelste (P50)", data: toPoints(p50), borderColor: COLORS.p50, borderWidth: 2.5, borderDash: [7, 4], order: 2 },
  ];
  if (withZero) {
    datasets.push({
      label: "nul",
      data: ZERO_LINE_X.map((x) => ({ x, y: 0 })),
      borderColor: COLORS.zero,
      borderWidth: 2,
      order: 3,
    });
  }
  runs.forEach((r, i) => {
    datasets.push({ label: `Run ${i + 1}`, data: toPoints(r), borderColor: COLORS.runs, borderWidth: 1, order: 4 });
  });

  const tickFont = { family: FONT, size: 11 };
  return {
    type: "line",
    data: { datasets },
    plugins: [extrasPlugin],
    options: {
      animation: false,
      responsive: false,
      maintainAspectRatio: false,
      events: [],
      elements: { point: { radius: 0 }, line: { tension: 0, fill: false, borderJoinStyle: "round" } },
      layout: { padding: { left: 0, right: 0, top: 0, bottom: 11.5 } },
      plugins: {
        title: {
          display: true,
          text: title,
          color: "#333",
          font: { family: FONT, size: 18, weight: "normal" },
          padding: { top: 7, bottom: 6 },
        },
        subtitle: {
          display: true,
          text: SUBTITLE,
          color: "#444",
          font: { family: FONT, size: 12, weight: "normal" },
          padding: { top: 7.2, bottom: 13.1 },
        },
        legend: {
          position: "bottom",
          onClick: () => {},
          labels: {
            usePointStyle: true,
            pointStyleWidth: 16,
            color: "#333",
            padding: 18,
            font: { family: FONT, size: 12.5 },
            generateLabels: () => LEGEND_ITEMS,
          },
        },
        tooltip: { enabled: false },
      },
      scales: {
        x: {
          type: "linear",
          min: xMin,
          max: xMax,
          afterBuildTicks: (s: any) => {
            s.ticks = DAY_NAMES.map((_, i) => ({ value: i }));
          },
          afterFit: (s: any) => {
            s.height = 38.5;
          },
          grid: { drawOnChartArea: false, drawTicks: true, tickLength: 9, color: COLORS.axis, tickColor: COLORS.axis },
          border: { display: true, color: COLORS.axis },
          ticks: {
            autoSkip: false,
            maxRotation: 0,
            minRotation: 0,
            align: "start",
            padding: 1,
            color: "#666",
            font: tickFont,
            callback: (v: any) => [DAY_NAMES[v], DAY_DATES[v]],
          },
        },
        y: {
          position: "left",
          min: -15,
          max: 15,
          afterFit: (s: any) => {
            s.width = 49;
          },
          ticks: { stepSize: 5, padding: 16, color: "#666", font: tickFont },
          grid: { color: COLORS.grid, drawTicks: false },
          border: { display: false },
        },
        y2: {
          position: "right",
          min: -15,
          max: 15,
          afterFit: (s: any) => {
            s.width = 47;
          },
          ticks: { stepSize: 5, padding: 14, color: "#666", font: tickFont },
          grid: { display: false, drawTicks: false },
          border: { display: false },
        },
      },
    },
  };
}

function Panel({ top, config }: { top: number; config: any }) {
  const ref = useRef<HTMLCanvasElement | null>(null);
  useEffect(() => {
    if (!ref.current) return;
    const chart = new Chart(ref.current, config);
    return () => chart.destroy();
  }, [config]);
  return (
    <div
      style={{
        position: "absolute",
        left: 4,
        top,
        width: 918,
        height: 399,
        boxSizing: "border-box",
        border: "1px solid #a9bfcc",
        background: "#fff",
      }}
    >
      <canvas ref={ref} width={916} height={397} style={{ display: "block", width: 916, height: 397 }} />
    </div>
  );
}

const TEMP_CONFIG = makeConfig(TEMP_TITLE, TEMP_CONTROL, TEMP_HIRES, TEMP_P50, TEMP_RUNS, -0.835, 14.725, true);
const DEW_CONFIG = makeConfig(DEW_TITLE, DEW_CONTROL, DEW_HIRES, DEW_P50, DEW_RUNS, -0.35, 14.735, false);

export default function App() {
  return (
    <div style={{ position: "relative", width: 930, height: 822 }}>
      <Panel top={1} config={TEMP_CONFIG} />
      <Panel top={421} config={DEW_CONFIG} />
    </div>
  );
}
